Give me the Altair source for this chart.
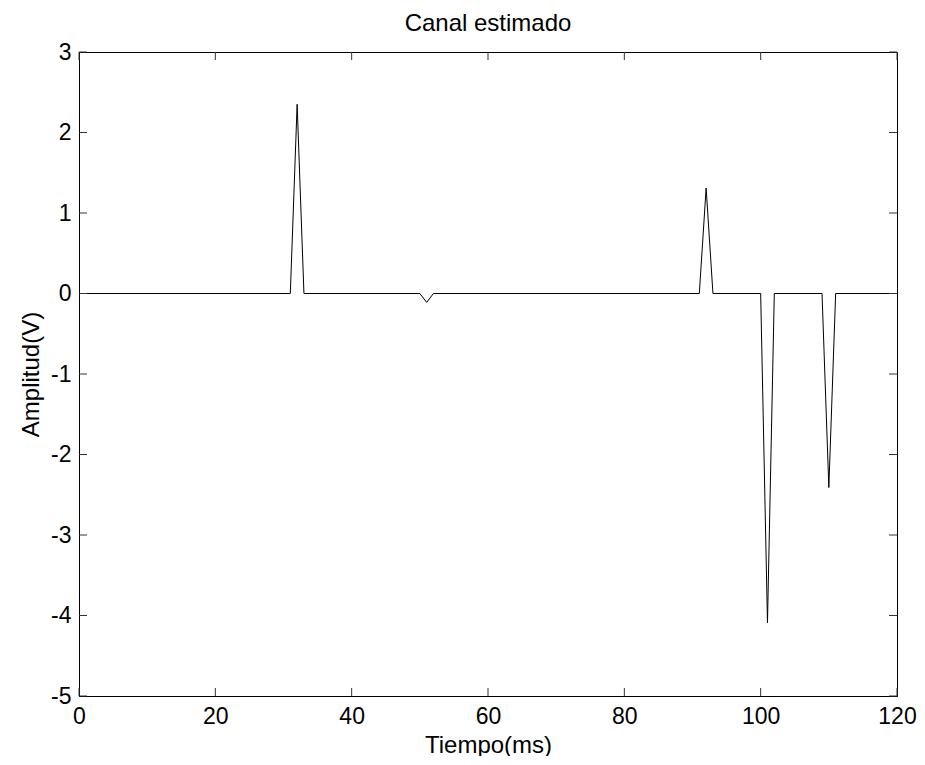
import altair as alt
import pandas as pd

# Line vertices (time in ms, amplitude in V)
times = [0, 31, 32, 33, 50, 51, 52, 91, 92, 93, 100, 101, 102, 109, 110, 111, 120]
amps = [0, 0, 2.35, 0, 0, -0.11, 0, 0, 1.31, 0, 0, -4.09, 0, 0, -2.41, 0, 0]

x_ticks = [0, 20, 40, 60, 80, 100, 120]
y_ticks = [-5, -4, -3, -2, -1, 0, 1, 2, 3]

W, H = 818, 644
FONT = "Liberation Sans"
FS = 24
LFS = 23
TL = 8  # inward tick length

df = pd.DataFrame({"t": times, "a": amps})
xt = pd.DataFrame({"t": x_ticks})
yt = pd.DataFrame({"a": y_ticks})

xscale = alt.Scale(domain=[0, 120], nice=False, zero=False)
yscale = alt.Scale(domain=[-5, 3], nice=False, zero=False)

xaxis = alt.Axis(values=x_ticks, ticks=False, tickSize=0, grid=False,
                 labelPadding=9, titlePadding=5, domainColor="black",
                 labelFlush=False, labelExpr="'' + datum.value")
yaxis = alt.Axis(values=y_ticks, ticks=False, tickSize=0, grid=False,
                 labelPadding=8, titlePadding=7, domainColor="black",
                 labelFlush=False, labelExpr="'' + datum.value")

X = alt.X("t:Q", scale=xscale, title="Tiempo(ms)", axis=xaxis)
Y = alt.Y("a:Q", scale=yscale, title="Amplitud(V)", axis=yaxis)

line = alt.Chart(df).mark_line(color="black", strokeWidth=1).encode(x=X, y=Y)

tick_color = "#333333"
xb = alt.Chart(xt).mark_rule(color=tick_color, strokeWidth=1).encode(
    x=X, y=alt.value(H), y2=alt.value(H - TL))
xtop = alt.Chart(xt).mark_rule(color=tick_color, strokeWidth=1).encode(
    x=X, y=alt.value(0), y2=alt.value(TL))
yl = alt.Chart(yt).mark_rule(color=tick_color, strokeWidth=1).encode(
    y=Y, x=alt.value(0), x2=alt.value(TL))
yr = alt.Chart(yt).mark_rule(color=tick_color, strokeWidth=1).encode(
    y=Y, x=alt.value(W), x2=alt.value(W - TL))

chart = alt.layer(line, xb, xtop, yl, yr).properties(
    width=W, height=H,
    background="white",
    title=alt.TitleParams("Canal estimado", fontSize=FS, font=FONT,
                          fontWeight="normal", color="black", offset=5),
    autosize=alt.AutoSizeParams(type="none"),
    padding={"left": 71, "top": 44, "right": 20, "bottom": 60},
).configure_view(stroke="black", strokeWidth=1).configure_axis(
    labelFont=FONT, titleFont=FONT, labelFontSize=LFS, titleFontSize=FS,
    labelColor="black", titleColor="black", titleFontWeight="normal",
    domainWidth=1,
)

chart.save("out.html", embed_options={"renderer": "svg", "actions": False})
